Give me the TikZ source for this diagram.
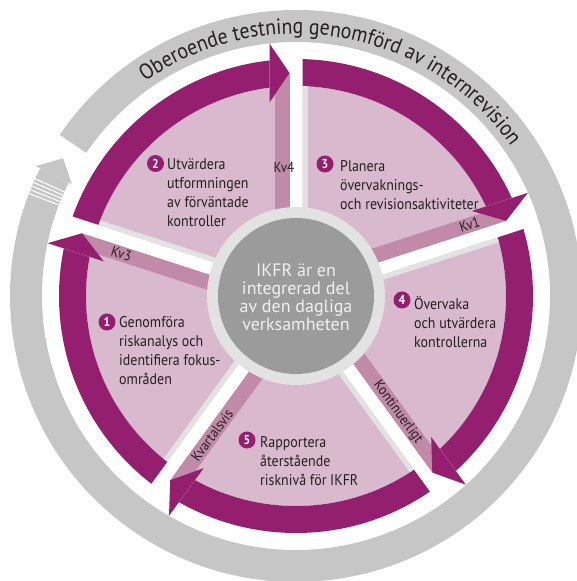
\documentclass[tikz,border=0pt]{standalone}
\usepackage{fontspec}
\setmainfont{PT Sans}[FakeStretch=0.9]
\newfontfamily\bodyfam{PT Sans}[FakeStretch=0.9]
\newfontfamily\hubfam{PT Sans}
\usetikzlibrary{decorations.text}

\definecolor{plum}{RGB}{147,31,110}
\definecolor{blush}{RGB}{217,185,206}
\definecolor{mauve}{RGB}{192,138,168}
\definecolor{ringgray}{RGB}{198,198,198}
\definecolor{paleline}{RGB}{226,226,226}
\definecolor{hubgray}{RGB}{155,155,155}
\definecolor{hubtext}{RGB}{240,240,240}
\definecolor{inktext}{RGB}{35,31,32}

\newcommand\linestack[1]{\begin{tabular}[t]{@{}l@{}}#1\end{tabular}}
\newcommand\bodysize{\bodyfam\fontsize{15.5}{18.8}\selectfont}
\newcommand\cuesize{\bodyfam\fontsize{14.5}{16}\selectfont}
\newcommand\titlesize{\bodyfam\fontsize{22}{26}\selectfont}
\newcommand\hubsize{\hubfam\fontsize{18}{18}\selectfont}

% geometry of the wheel
\def\rin{210}     % inner radius of the purple band
\def\rout{237}    % outer radius of the purple band
\def\gw{6.5}      % half width of a white gap
\def\hl{20}       % arrowhead length
\def\hw{29.5}     % arrowhead half width
\def\hr{223}      % radius of the arrowhead axis

% one cut between two phases, drawn in a frame where the cut points straight up
\newcommand\phasecut[1]{%
  \begin{scope}[shift={(O)}, rotate=#1-90]
    \fill[white] (-\gw,0) -- (\gw,0) -- (\gw,246) -- (-\gw-\hl,246)
      -- (-\gw-\hl,205) -- (-\gw,205) -- cycle;
    \fill[paleline] (\gw,0) rectangle (\gw+5,209.5);
    \fill[mauve] (-\gw-15,0) rectangle (-\gw,\hr);
    \fill[plum] (-\gw-\hl,\hr-\hw) -- (-\gw-\hl,\hr+\hw) -- (-\gw,\hr) -- cycle;
  \end{scope}}

\tikzset{
  badge/.style={circle, fill=plum, text=white, minimum size=17pt, inner sep=0pt,
    font=\bodyfam\bfseries\fontsize{13}{13}\selectfont},
  body/.style={anchor=base west, inner sep=0pt, text=inktext, font=\bodysize},
  cue/.style={inner sep=0pt, text=inktext, font=\cuesize},
}

\begin{document}
\begin{tikzpicture}[x=1pt, y=1pt]
  \useasboundingbox (0,0) rectangle (577,581);
  \clip (0,0) rectangle (577,581);
  \coordinate (O) at (296,285);

  % outer grey cycle arrow
  \begin{scope}[shift={(O)}]
    \fill[ringgray] (145.7:286) arc[start angle=145.7, end angle=-206.5, radius=286]
      -- (-206.5:254) arc[start angle=-206.5, end angle=145.7, radius=254] -- cycle;
    \fill[ringgray] (153.5:250.5) -- (153.5:291) -- (149.4:270.5) -- cycle;
    \foreach \a in {155.8,156.6,157.4,158.2,159.0}
      \draw[white, line width=1.1pt] (\a:252) -- (\a:288);
    \path[decorate, decoration={text along path, text align=center, text color=inktext,
        text={|\titlesize|Oberoende testning genomförd av internrevision}}]
      (140:262) arc[start angle=140, end angle=20, radius=262];
  \end{scope}

  % phase wheel
  \fill[blush] (O) circle[radius=\rin];
  \fill[plum, even odd rule] (O) circle[radius=\rout] (O) circle[radius=\rin];

  \phasecut{90}
  \phasecut{18}
  \phasecut{-54}
  \phasecut{-126}
  \phasecut{162}

  % timing labels on the mauve strips
  \begin{scope}[shift={(O)}]
    \node[cue] (kv4) at (-12,129) {Kv4};
  \end{scope}
  \begin{scope}[shift={(O)}, rotate=18-90]
    \node[cue, rotate=18] (kv1) at (-14,187) {Kv1};
  \end{scope}
  \begin{scope}[shift={(O)}, rotate=-54-90]
    \node[cue, rotate=-54] (kont) at (-14,154) {Kontinuerligt};
  \end{scope}
  \begin{scope}[shift={(O)}, rotate=-126-90]
    \node[cue, rotate=54] (kvart) at (-14,162) {Kvartalsvis};
  \end{scope}
  \begin{scope}[shift={(O)}, rotate=162-90]
    \node[cue, rotate=-18] (kv3) at (-14,179) {Kv3};
  \end{scope}

  % hub
  \fill[paleline] (O) circle[radius=89];
  \fill[hubgray] (O) circle[radius=78];
  \node[text=hubtext, font=\hubsize, align=center, inner sep=0pt] (hub) at (296,284)
    {IKFR är en\\integrerad del\\av den dagliga\\verksamheten};

  % phases
  \node[badge] (b1) at (107,259) {1};
  \node[body] (t1) at (119,253) {\linestack{Genomföra\\riskanalys och\\identifiera fokus-\\områden}};
  \node[badge] (b2) at (155.5,417.5) {2};
  \node[body] (t2) at (167,411) {\linestack{Utvärdera\\utformningen\\av förväntade\\kontroller}};
  \node[badge] (b3) at (325,417) {3};
  \node[body] (t3) at (340,409) {\linestack{Planera\\övervaknings-\\och revisionsaktiviteter}};
  \node[badge] (b4) at (402,281) {4};
  \node[body] (t4) at (414,271) {\linestack{Övervaka\\och utvärdera\\kontrollerna}};
  \node[badge] (b5) at (247,141) {5};
  \node[body] (t5) at (260,133) {\linestack{Rapportera\\återstående\\risknivå för IKFR}};
\end{tikzpicture}
\end{document}
